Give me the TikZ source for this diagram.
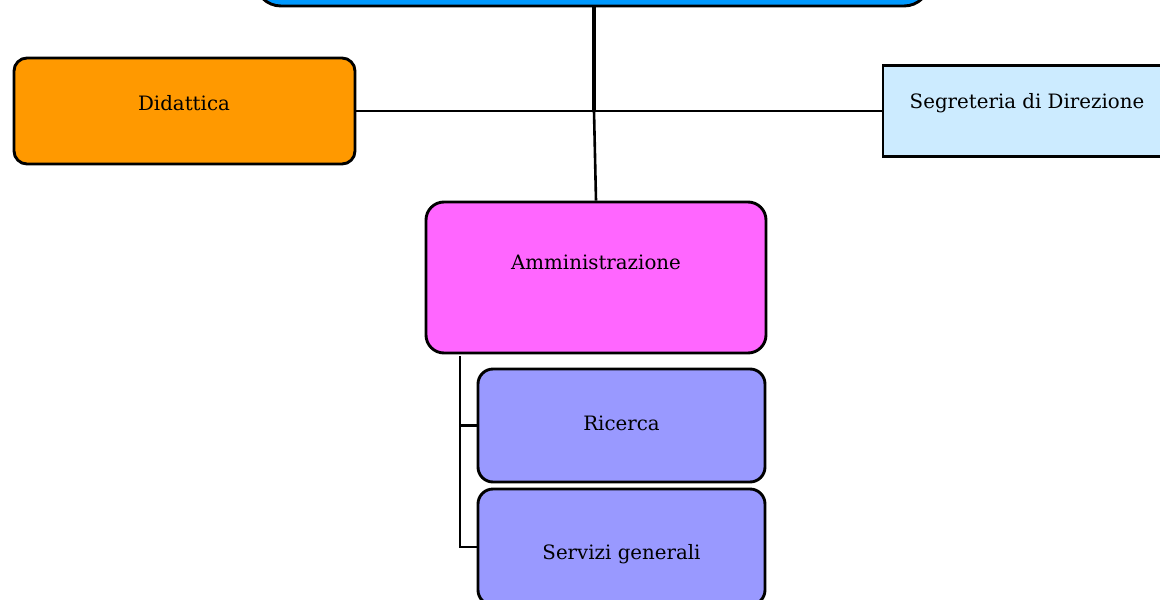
\documentclass[tikz,border=0pt]{standalone}
\usepackage{fontspec}
\setmainfont{DejaVu Serif}
\definecolor{topblue}{HTML}{0099FF}
\definecolor{didorange}{HTML}{FF9900}
\definecolor{seglight}{HTML}{CCEBFF}
\definecolor{ammmag}{HTML}{FF66FF}
\definecolor{subviolet}{HTML}{9999FF}
\begin{document}
\begin{tikzpicture}[x=1pt,y=-1pt,
  box/.style={draw=black,line width=2.9pt,rectangle,inner sep=0pt},
  lbl/.style={font=\fontsize{19.8}{23}\selectfont,inner sep=0pt},
  conn/.style={draw=black,line width=2.6pt},
  thickconn/.style={draw=black,line width=4pt}]
\useasboundingbox (0,0) rectangle (1160,600);
\clip (0,0) rectangle (1160,600);
% boxes
\node[box,rounded corners=26pt,fill=topblue,minimum width=675,minimum height=86] (top) at (592.5,-37) {};
\node[box,rounded corners=13pt,fill=didorange,minimum width=341,minimum height=106] (did) at (184.5,111) {};
\node[lbl] (didt) at (184,103) {Didattica};
\node[box,fill=seglight,minimum width=288,minimum height=91] (seg) at (1027,111) {};
\node[lbl] (segt) at (1027,103) {Segreteria di Direzione};
\node[box,rounded corners=18pt,fill=ammmag,minimum width=340,minimum height=151] (amm) at (596,277.5) {};
\node[lbl] (ammt) at (596,262) {Amministrazione};
\node[box,rounded corners=15pt,fill=subviolet,minimum width=287,minimum height=113] (ric) at (621.5,425.5) {};
\node[lbl] (rict) at (621.5,423) {Ricerca};
\node[box,rounded corners=15pt,fill=subviolet,minimum width=287,minimum height=116] (ser) at (621.5,547) {};
\node[lbl] (sert) at (621.5,554) {Servizi generali};
% connectors
\coordinate (hub) at (594,111);
\coordinate (sub) at (460,356);
\draw[thickconn] (top.south -| hub) -- (hub);
\draw[conn] (hub) -- (amm.north);
\draw[conn] (did.east) -- (hub) -- (seg.west);
\draw[conn] (sub) -- (sub |- ser.west) -- (ser.west);
\draw[conn] (sub |- ric.west) -- (ric.west);
\end{tikzpicture}
\end{document}
